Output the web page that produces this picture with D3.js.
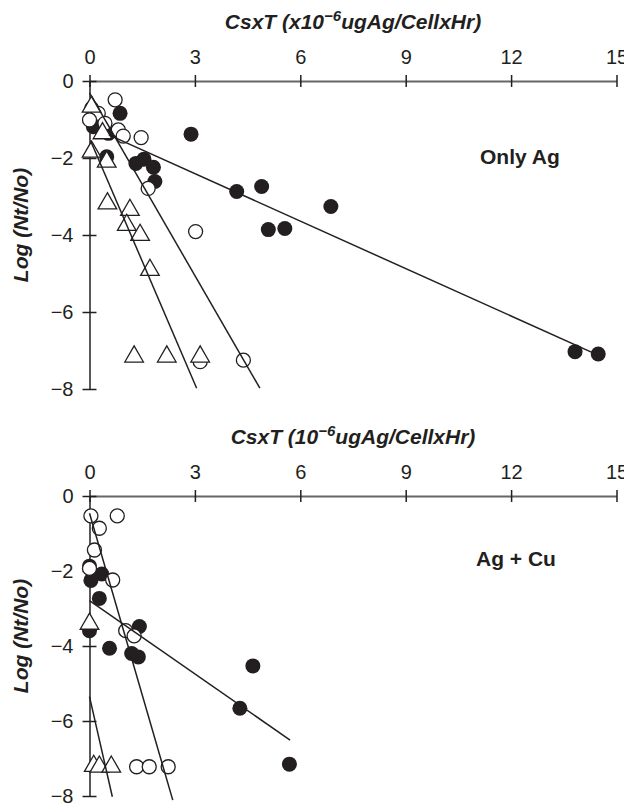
<!DOCTYPE html>
<html>
<head>
<meta charset="utf-8">
<script src="https://cdn.jsdelivr.net/npm/d3@7"></script>
<style>
body { margin: 0; background: #fff; }
text { font-family: Arial, "Liberation Sans", sans-serif; }
</style>
</head>
<body>
<script>
var width = 624;
var height = 806;

var xTicks = [0, 3, 6, 9, 12, 15];
var yTicks = [0, -2, -4, -6, -8];

// panel 1: only Ag
var agFilled = [[0.06, -0.71], [0.87, -0.84], [0.11, -1.19], [0.54, -1.36], [2.89, -1.38], [0.49, -1.97],
  [1.32, -2.14], [1.55, -2.03], [1.82, -2.24], [1.86, -2.61], [4.19, -2.87], [4.90, -2.74],
  [5.09, -3.86], [5.56, -3.83], [6.87, -3.26], [13.82, -7.03], [14.48, -7.09]];
var agOpen = [[0.73, -0.49], [0.25, -0.84], [0.0, -1.01], [0.44, -1.1], [0.82, -1.27], [0.96, -1.43],
  [1.47, -1.47], [1.67, -2.79], [3.02, -3.91], [3.15, -7.29], [4.38, -7.25]];
var agTri = [[0.06, -0.67], [0.37, -1.36], [0.06, -1.84], [0.49, -2.1], [0.51, -3.18], [1.15, -3.35],
  [1.06, -3.74], [1.44, -4.0], [1.72, -4.91], [1.27, -7.16], [2.2, -7.16], [3.15, -7.16]];
var agLines = [[[0.55, -1.4], [14.3, -7.05]], [[0.0, -0.31], [4.85, -7.98]], [[0.03, -1.55], [3.05, -7.98]]];

// panel 2: Ag + Cu
var cuFilled = [[0.0, -1.87], [0.35, -2.08], [0.04, -2.25], [0.28, -2.73], [0.0, -3.59], [1.42, -3.48],
  [0.57, -4.06], [1.2, -4.2], [1.39, -4.29], [4.65, -4.53], [4.28, -5.66], [5.69, -7.15]];
var cuOpen = [[0.04, -0.53], [0.79, -0.53], [0.28, -0.86], [0.14, -1.44], [0.0, -1.93], [0.66, -2.24],
  [1.03, -3.59], [1.27, -3.73], [1.34, -7.22], [1.7, -7.22], [2.24, -7.22]];
var cuTri = [[0.0, -3.41], [0.12, -7.2], [0.28, -7.22], [0.62, -7.22]];
var cuLines = [[[0.0, -2.79], [5.71, -6.51]], [[0.0, -0.46], [2.37, -8.11]], [[0.0, -5.35], [0.65, -8.02]]];

var svg = d3.select("body").append("svg")
  .attr("width", width)
  .attr("height", height);

var ink = "#231f20";

function drawPanel(p) {
  var x = d3.scaleLinear().domain([0, 15]).range([89.5, 616.5]);
  var y = d3.scaleLinear().domain([0, -8]).range([p.top, p.bottom]);
  var g = svg.append("g");

  // x axis along y = 0
  var xa = g.append("g")
    .attr("transform", "translate(0," + y(0) + ")")
    .call(d3.axisTop(x).tickValues(xTicks).tickSize(6).tickSizeOuter(0).tickPadding(11));
  xa.attr("font-size", 20).attr("font-family", null);
  xa.select(".domain").attr("stroke", "#666").attr("stroke-width", 2);
  xa.selectAll(".tick line").attr("y1", -6).attr("y2", 6).attr("stroke", ink).attr("stroke-width", 1.5);
  xa.selectAll(".tick text").attr("fill", ink);

  // y axis along x = 0
  var ya = g.append("g")
    .attr("transform", "translate(" + x(0) + ",0)")
    .call(d3.axisLeft(y).tickValues(yTicks).tickSize(6).tickSizeOuter(0).tickPadding(10));
  ya.attr("font-size", 20).attr("font-family", null);
  ya.select(".domain").attr("stroke", ink).attr("stroke-width", 1.5);
  ya.selectAll(".tick line").attr("x1", -7).attr("x2", 7).attr("stroke", ink).attr("stroke-width", 1.5);
  ya.selectAll(".tick text").attr("fill", ink);

  // axis title with superscript
  var t = g.append("text")
    .attr("x", (x(0) + x(15)) / 2)
    .attr("y", p.top - 52)
    .attr("text-anchor", "middle")
    .attr("font-size", 21)
    .attr("font-weight", "bold")
    .attr("font-style", "italic")
    .attr("fill", ink);
  t.append("tspan").text(p.pre);
  t.append("tspan").attr("dy", -8).attr("font-size", 15).text("\u22126");
  t.append("tspan").attr("dy", 8).text("ugAg/CellxHr)");

  g.append("text")
    .attr("transform", "translate(28," + p.ylabY + ") rotate(-90)")
    .attr("text-anchor", "middle")
    .attr("font-size", 21)
    .attr("font-weight", "bold")
    .attr("font-style", "italic")
    .attr("fill", ink)
    .text("Log (Nt/No)");

  g.append("text")
    .attr("x", p.nameX)
    .attr("y", p.nameY)
    .attr("font-size", 21)
    .attr("font-weight", "bold")
    .attr("fill", ink)
    .text(p.name);

  g.selectAll(".filled").data(p.filled).enter().append("circle")
    .attr("cx", function(d){ return x(d[0]); })
    .attr("cy", function(d){ return y(d[1]); })
    .attr("r", 7.5)
    .attr("fill", ink);

  g.selectAll(".open").data(p.open).enter().append("circle")
    .attr("cx", function(d){ return x(d[0]); })
    .attr("cy", function(d){ return y(d[1]); })
    .attr("r", 7)
    .attr("fill", "#fff")
    .attr("stroke", ink)
    .attr("stroke-width", 1.3);

  var tri = d3.symbol().type(d3.symbolTriangle).size(150);
  g.selectAll(".tri").data(p.tri).enter().append("path")
    .attr("d", tri)
    .attr("transform", function(d){ return "translate(" + x(d[0]) + "," + y(d[1]) + ")"; })
    .attr("fill", "#fff")
    .attr("stroke", ink)
    .attr("stroke-width", 1.3);

  var line = d3.line().x(function(d){ return x(d[0]); }).y(function(d){ return y(d[1]); });
  g.selectAll(".fit").data(p.lines).enter().append("path")
    .attr("d", line)
    .attr("fill", "none")
    .attr("stroke", ink)
    .attr("stroke-width", 1.5);
}

drawPanel({top: 81, bottom: 389, pre: "CsxT (x10", name: "Only Ag", nameX: 480, nameY: 164, ylabY: 225,
  filled: agFilled, open: agOpen, tri: agTri, lines: agLines});
drawPanel({top: 496, bottom: 796, pre: "CsxT (10", name: "Ag + Cu", nameX: 476, nameY: 566, ylabY: 636,
  filled: cuFilled, open: cuOpen, tri: cuTri, lines: cuLines});
</script>
</body>
</html>
